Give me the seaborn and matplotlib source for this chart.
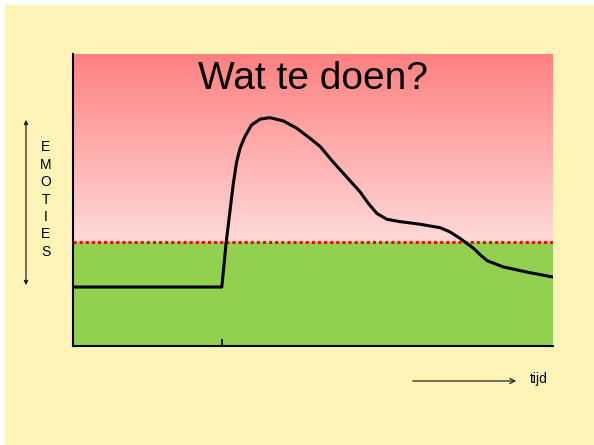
import numpy as np
import pandas as pd
import matplotlib.pyplot as plt
import seaborn as sns
from matplotlib.colors import LinearSegmentedColormap
from matplotlib.patches import Rectangle, FancyArrowPatch

sns.set_style("white")
plt.rcParams['font.family'] = ['Liberation Sans', 'DejaVu Sans']
plt.rcParams['text.color'] = 'black'

# emotion curve over time (0-100 both axes)
tijd = [0, 31.0, 31.9, 33.4, 34.1, 34.8, 35.8, 37.2, 39.0, 41.0, 43.8, 46.6,
        49.4, 51.5, 54.2, 59.8, 61.5, 63.3, 65.4, 68.1, 72.3, 76.5,
        78.5, 80.6, 82.0, 83.4, 85.0, 86.3, 89.6, 94.6, 100]
emotie = [20.2, 20.2, 35.3, 55.7, 63.1, 67.7, 71.7, 75.7, 77.7, 78.2, 77.1, 74.6,
          71.1, 68.3, 63.0, 52.8, 48.9, 45.4, 43.4, 42.6, 41.7, 40.5,
          39.1, 36.9, 35.2, 33.5, 31.0, 29.2, 27.1, 25.3, 23.6]
grens = 35.6
tick_pos = [31.0]
titel = "Wat te doen?"
ylabel_letters = list("EMOTIES")
xlabel = "tijd"

df = pd.DataFrame({'tijd': tijd, 'emotie': emotie})

W, H = 594, 445
fig = plt.figure(figsize=(W / 100, H / 100), dpi=100)
fig.patch.set_facecolor('white')
fig.patches.append(Rectangle((5 / W, 0), 1 - 5 / W, 1 - 5 / H, transform=fig.transFigure,
                             facecolor='#fff4b8', edgecolor='none', zorder=-5))

ax = fig.add_axes([73 / W, (H - 346) / H, 480 / W, 292 / H])
ax.set_xlim(0, 100)
ax.set_ylim(0, 100)
ax.patch.set_alpha(0)

# backgrounds: red gradient above threshold, green below
cmap = LinearSegmentedColormap.from_list('rood', ['#ffd9d9', '#ff8080'])
grad = np.linspace(0, 1, 256).reshape(-1, 1)
ax.imshow(grad, extent=[0, 100, grens, 100], origin='lower', cmap=cmap,
          aspect='auto', zorder=0)
ax.axhspan(0, grens, color='#92d050', zorder=0, lw=0)
ax.axhline(grens, color='#ff0000', ls=(0, (1, 1)), lw=2.2, zorder=2)

sns.lineplot(data=df, x='tijd', y='emotie', ax=ax, color='black', lw=2.2, zorder=3)

ax.text(50, 91.5, titel, ha='center', va='center', fontsize=28, color='black')

for s in ['top', 'right']:
    ax.spines[s].set_visible(False)
for s in ['left', 'bottom']:
    ax.spines[s].set_color('black')
    ax.spines[s].set_linewidth(1.5)
ax.set_xticks(tick_pos)
ax.set_xticklabels([])
ax.set_yticks([])
ax.tick_params(axis='x', direction='in', length=5, width=1.2, color='black', bottom=True)
ax.set_xlabel('')
ax.set_ylabel('')

# left label with double arrow
fig.patches.append(FancyArrowPatch((26 / W, 1 - 117 / H), (26 / W, 1 - 288 / H),
                                   transform=fig.transFigure, arrowstyle='<|-|>',
                                   mutation_scale=6, lw=0.9, color='#222222'))
for i, letter in enumerate(ylabel_letters):
    fig.text(46 / W, 1 - (147 + i * 17.5) / H, letter, ha='center', va='center',
             fontsize=10, color='black')

# bottom time arrow
fig.patches.append(FancyArrowPatch((410 / W, 1 - 381 / H), (519 / W, 1 - 381 / H),
                                   transform=fig.transFigure, arrowstyle='->',
                                   mutation_scale=9, lw=0.9, color='#222222'))
fig.text(530 / W, 1 - 379 / H, xlabel, ha='left', va='center', fontsize=10, color='black')

plt.savefig('out.png', dpi=100)
